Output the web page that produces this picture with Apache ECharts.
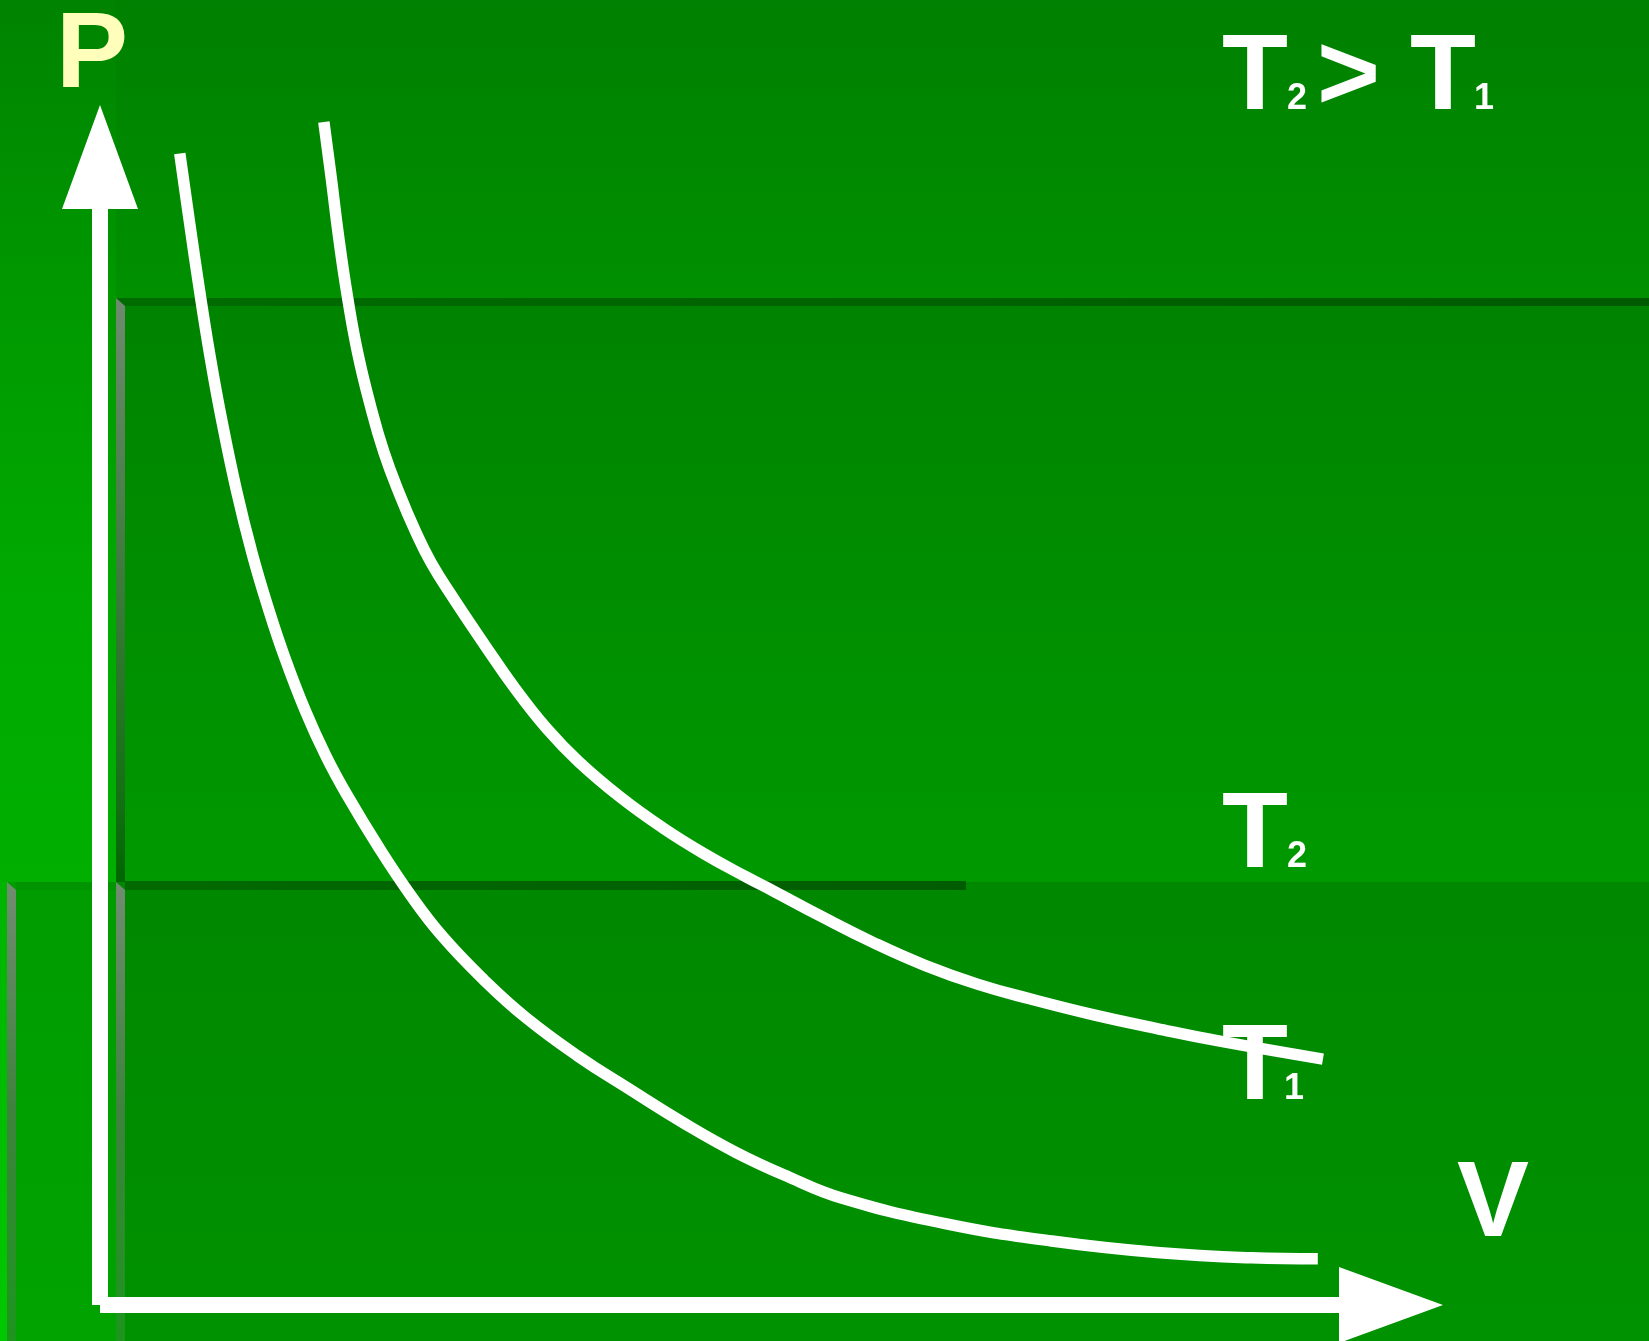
<!DOCTYPE html>
<html><head><meta charset="utf-8">
<script src="https://cdn.jsdelivr.net/npm/echarts@6/dist/echarts.min.js"></script>
<style>html,body{margin:0;padding:0;background:#008a00;overflow:hidden}#c{width:1649px;height:1341px;}</style>
</head><body><div id="c"></div>
<script>
// Isotherm T1 (lower curve): volume / pressure (arbitrary units)
const volumeT1 = [0.618,0.692,0.773,0.854,0.936,1.058,1.180,1.303,1.425,1.588,1.751,1.914,2.158,2.403,2.647,2.973,3.299,3.706,4.113,4.521,4.928,5.335,5.743,6.557,7.372,8.187,8.920,9.433];
const pressureT1 = [10.031,9.443,8.822,8.254,7.747,7.090,6.539,6.071,5.659,5.183,4.780,4.441,3.988,3.575,3.218,2.833,2.503,2.165,1.871,1.585,1.328,1.115,0.932,0.706,0.557,0.457,0.411,0.402];
// Isotherm T2 (upper curve)
const volumeT2 = [1.734,1.792,1.848,1.914,1.995,2.093,2.199,2.321,2.443,2.565,2.728,2.973,3.217,3.462,3.706,4.032,4.358,4.683,5.009,5.213,5.580,5.987,6.394,6.802,7.209,7.698,8.187,8.675,9.473];
const pressureT2 = [10.305,9.810,9.307,8.802,8.299,7.841,7.429,7.062,6.741,6.466,6.173,5.761,5.367,5.019,4.735,4.423,4.158,3.929,3.727,3.608,3.389,3.159,2.957,2.793,2.665,2.527,2.408,2.298,2.142];
const axisMin = 0, axisMax = 10;
const labelP = 'P', labelV = 'V', labelT = 'T', sub1 = '1', sub2 = '2', gtSign = '>';

const zip = (a, b) => a.map((v, i) => [v, b[i]]);
const FONT_BIG = 'bold 108px "Liberation Sans", Arial, sans-serif';
const FONT_SUB = 'bold 36px "Liberation Sans", Arial, sans-serif';
function txt(t, x, baseline, big, fill) {
  const fs = big ? 108 : 36;
  return { type: 'text', z: 20, x: x, y: baseline - 0.2775 * fs,
    style: { text: t, font: big ? FONT_BIG : FONT_SUB, fill: fill || '#ffffff',
      align: 'left', verticalAlign: 'middle', textAlign: 'left', textVerticalAlign: 'middle' } };
}
function vgrad(stops) { return { type: 'linear', x: 0, y: 0, x2: 0, y2: 1, colorStops: stops.map(s => ({offset: s[0], color: s[1]})) }; }
function hgrad(stops) { return { type: 'linear', x: 0, y: 0, x2: 1, y2: 0, colorStops: stops.map(s => ({offset: s[0], color: s[1]})) }; }
function rect(x, y, w, h, fill) { return { type: 'rect', z: -10, shape: {x, y, width: w, height: h}, style: {fill} }; }
function poly(points, fill) { return { type: 'polygon', z: -9, shape: {points}, style: {fill} }; }
const bevel = vgrad([[0,'#728c72'],[0.5,'#3e823e'],[1,'#1c961c']]);
const axisLineStyle = { color: '#ffffff', width: 16, cap: 'butt', join: 'miter' };

const chart = echarts.init(document.getElementById('c'));
chart.setOption({
  animation: false,
  backgroundColor: '#008a00',
  grid: { left: 100, right: 258, top: 157, bottom: 36 },
  xAxis: { type: 'value', min: axisMin, max: axisMax,
    axisLine: { show: true, onZero: false, symbol: ['none','triangle'], symbolSize: [76,104], lineStyle: axisLineStyle },
    axisTick: { show: false }, axisLabel: { show: false }, splitLine: { show: false } },
  yAxis: { type: 'value', min: axisMin, max: axisMax,
    axisLine: { show: true, onZero: false, symbol: ['none','triangle'], symbolSize: [76,104], lineStyle: axisLineStyle },
    axisTick: { show: false }, axisLabel: { show: false }, splitLine: { show: false } },
  series: [
    { type: 'line', name: 'T1', data: zip(volumeT1, pressureT1), smooth: 0.45, symbol: 'none', clip: false, silent: true, z: 5,
      lineStyle: { color: '#ffffff', width: 11.5, cap: 'butt' } },
    { type: 'line', name: 'T2', data: zip(volumeT2, pressureT2), smooth: 0.45, symbol: 'none', clip: false, silent: true, z: 5,
      lineStyle: { color: '#ffffff', width: 11.5, cap: 'butt' } }
  ],
  graphic: { elements: [
    rect(0, 0, 1649, 1341, vgrad([[0,'#008000'],[0.22,'#009000'],[1,'#009000']])),
    rect(0, 0, 116, 882, vgrad([[0,'#008300'],[0.34,'#009900'],[0.68,'#00aa00'],[1,'#00af00']])),
    rect(116, 298, 1533, 584, vgrad([[0,'#008300'],[1,'#009900']])),
    rect(116, 882, 1533, 459, vgrad([[0,'#008800'],[1,'#009200']])),
    rect(0, 882, 8, 459, vgrad([[0,'#00b400'],[1,'#00c800']])),
    rect(8, 882, 108, 459, vgrad([[0,'#009c00'],[1,'#00a300']])),
    poly([[116,298],[1649,298],[1649,306],[125,306]], hgrad([[0,'#006c00'],[1,'#005a00']])),
    poly([[116,298],[125,306],[125,882],[116,882]], vgrad([[0,'#708a70'],[0.5,'#3a7a3a'],[0.85,'#157015'],[1,'#006600']])),
    poly([[125,881],[966,881],[966,890],[125,890]], hgrad([[0,'#006a00'],[1,'#005c00']])),
    poly([[16,882],[116,882],[116,890],[16,890]], 'rgba(0,90,0,0.12)'),
    poly([[7,882],[16,890],[16,1341],[7,1341]], bevel),
    poly([[116,882],[125,890],[125,1341],[116,1341]], bevel),
    txt(labelP, 56, 87, true, '#ffffbb'),
    txt(labelV, 1457, 1236, true),
    txt(labelT, 1222, 109, true), txt(sub2, 1287, 109, false), txt(gtSign, 1317, 109, true),
    txt(labelT, 1410, 109, true), txt(sub1, 1474, 109, false),
    txt(labelT, 1222, 867, true), txt(sub2, 1287, 867, false),
    txt(labelT, 1222, 1099, true), txt(sub1, 1284, 1099, false)
  ] }
});
</script></body></html>
